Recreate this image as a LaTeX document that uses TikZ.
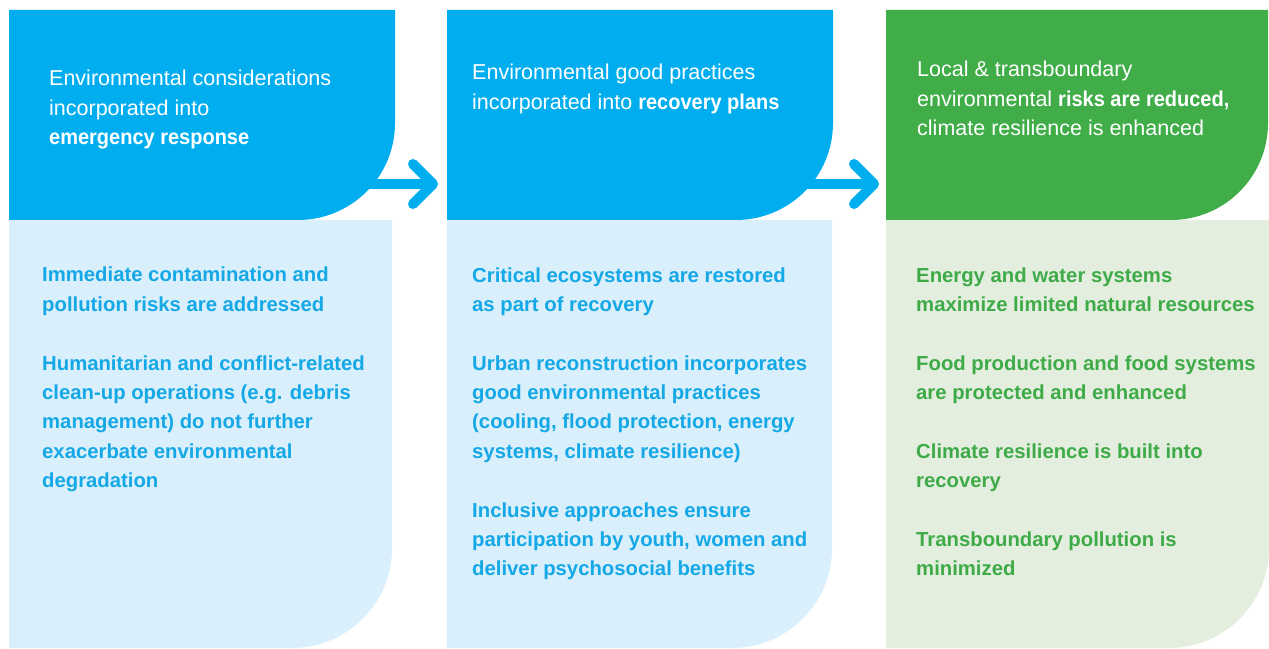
\documentclass[tikz,border=0pt]{standalone}
\usepackage{fontspec}
\setmainfont{Liberation Sans}
\newfontfamily\headboldfam{Liberation Sans}[FakeStretch=0.93]
\usetikzlibrary{arrows.meta}

\definecolor{headblue}{HTML}{00AEEF}
\definecolor{bodyblue}{HTML}{D9EFFB}
\definecolor{textblue}{HTML}{14A8E6}
\definecolor{headgreen}{HTML}{41AD49}
\definecolor{bodygreen}{HTML}{E3EEDE}
\definecolor{textgreen}{HTML}{3EAB48}

\newcommand{\keyword}[1]{{\headboldfam\bfseries #1}}

\begin{document}
\begin{tikzpicture}[x=1pt, y=1pt, >={Straight Barb[length=20pt,width=40pt,round]},
    headtext/.style={anchor=base west, align=left, inner sep=0pt, text=white,
        font=\fontsize{21.5}{29.5}\selectfont},
    bodytext/.style={anchor=base west, align=left, inner sep=0pt,
        font=\bfseries\fontsize{20.3}{29.4}\selectfont},
    flow/.style={->, line width=10pt, headblue}]
    \useasboundingbox (0,0) rectangle (1269,648);

    % Panels {body, then header}
    \fill [bodyblue]  (9,428)   -- (392,428)  -- (392,100)  arc [start angle=0, end angle=-90, radius=100] -- (9,0)   -- cycle;
    \fill [headblue]  (9,638)   -- (395,638)  -- (395,525)  arc [start angle=0, end angle=-90, radius=97]  -- (9,428) -- cycle;
    \fill [bodyblue]  (447,428) -- (832,428)  -- (832,100)  arc [start angle=0, end angle=-90, radius=100] -- (447,0) -- cycle;
    \fill [headblue]  (447,638) -- (833,638)  -- (833,525)  arc [start angle=0, end angle=-90, radius=97]  -- (447,428) -- cycle;
    \fill [bodygreen] (886,428) -- (1269,428) -- (1269,100) arc [start angle=0, end angle=-90, radius=100] -- (886,0) -- cycle;
    \fill [headgreen] (886,638) -- (1268,638) -- (1268,525) arc [start angle=0, end angle=-90, radius=97]  -- (886,428) -- cycle;

    % Nodes {headers, placed by their last baseline}
    \node [headtext] (response) at (49,503)  {Environmental considerations\\incorporated into\\\keyword{emergency response}};
    \node [headtext] (recovery) at (472,538.5) {Environmental good practices\\incorporated into \keyword{recovery plans}};
    \node [headtext] (reduced)  at (917,512) {Local \& transboundary\\environmental \keyword{risks are reduced,}\\climate resilience is enhanced};

    % Nodes {outcomes}
    \node [bodytext, text=textblue]  (response-list) at (42,160.2) {Immediate contamination and\\pollution risks are addressed\\[29.4pt]
        Humanitarian and conflict-related\\clean-up operations (e.g. debris\\management) do not further\\exacerbate environmental\\degradation};
    \node [bodytext, text=textblue]  (recovery-list) at (472,72) {Critical ecosystems are restored\\as part of recovery\\[29.4pt]
        Urban reconstruction incorporates\\good environmental practices\\(cooling, flood protection, energy\\systems, climate resilience)\\[29.4pt]
        Inclusive approaches ensure\\participation by youth, women and\\deliver psychosocial benefits};
    \node [bodytext, text=textgreen] (reduced-list)  at (916,72) {Energy and water systems\\maximize limited natural resources\\[29.4pt]
        Food production and food systems\\are protected and enhanced\\[29.4pt]
        Climate resilience is built into\\recovery\\[29.4pt]
        Transboundary pollution is\\minimized};

    % Paths
    \coordinate (response-out) at (360,464);
    \coordinate (recovery-in)  at (438,464);
    \coordinate (recovery-out) at (800,464);
    \coordinate (reduced-in)   at (879,464);
    \path [flow] (response-out) edge (recovery-in);
    \path [flow] (recovery-out) edge (reduced-in);

\end{tikzpicture}
\end{document}
